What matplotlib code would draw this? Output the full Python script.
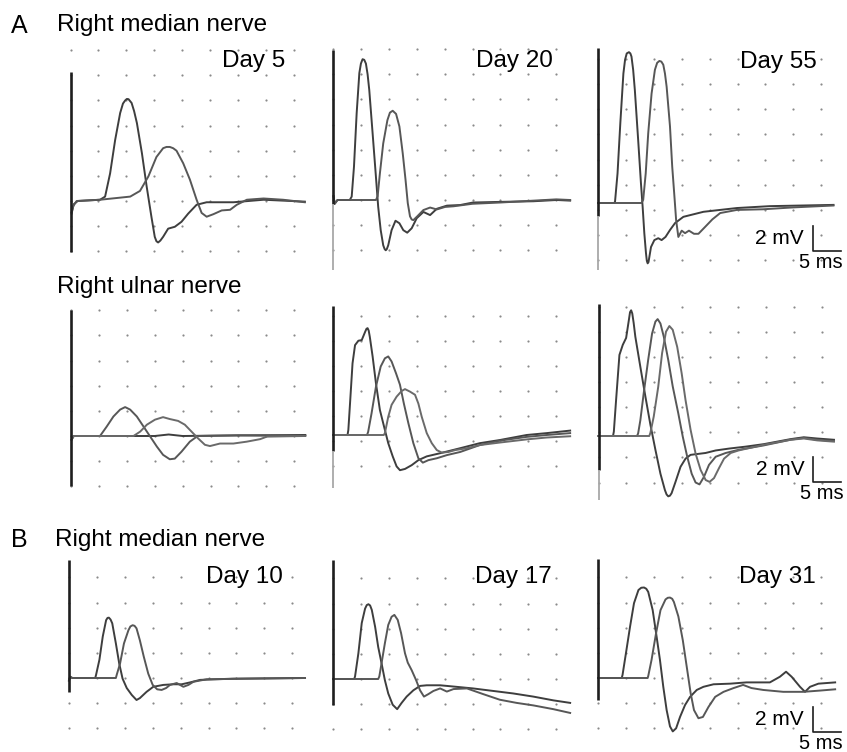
import numpy as np
import matplotlib.pyplot as plt

plt.rcParams['font.family'] = ['Liberation Sans', 'DejaVu Sans']

W, H = 847, 752
PX_MS = 5.58    # pixel je ms
PX_MV = 12.57   # pixel je mV

# --- Messkurven (Zeit in ms, Spannung in mV) ---
# A, N. medianus rechts, Tag 5
med5_a = [(0.2, -0.9), (0.6, -0.25), (1.3, 0.0), (5.3, 0.1), (6.2, 0.35), (7.1, 2.2), (8.0, 4.85),
          (8.9, 7.0), (9.4, 7.75), (9.8, 8.0), (10.1, 8.12), (10.4, 8.1), (10.95, 7.8), (11.4, 7.15),
          (11.9, 6.2), (12.8, 3.8), (13.65, 1.15), (14.5, -1.25), (15.1, -2.85), (15.4, -3.2),
          (15.7, -3.3), (16.1, -3.15), (16.6, -2.85), (17.5, -2.2), (18.7, -2.05), (19.9, -1.65),
          (21.1, -1.0), (22.6, -0.3), (24.4, -0.1), (29.2, -0.1), (34.6, 0.1), (42.0, -0.05)]
med5_b = [(0.2, -1.0), (0.5, -0.4), (1.1, 0.0), (5.3, 0.1), (10.7, 0.35), (12.45, 0.8), (13.95, 1.95),
          (15.4, 3.5), (16.6, 4.2), (17.2, 4.3), (17.8, 4.3), (18.4, 4.2), (19.0, 4.0), (20.2, 3.0),
          (21.4, 1.7), (22.6, 0.1), (23.5, -0.95), (24.4, -1.25), (25.6, -1.05), (27.1, -0.75),
          (28.6, -0.7), (29.8, -0.3), (31.6, 0.1), (34.6, 0.2), (38.1, 0.1), (42.0, -0.1)]
# Tag 20
med20_a = [(0.1, 0.3), (0.3, -0.3), (0.8, 0.0), (3.0, 0.0), (3.35, 0.27), (3.76, 2.65), (4.24, 6.9),
           (4.72, 10.1), (5.0, 10.85), (5.3, 11.2), (5.6, 11.15), (5.9, 10.85), (6.2, 10.0),
           (6.5, 8.75), (7.1, 5.3), (7.65, 2.1), (8.1, -0.55), (8.55, -2.4), (9.0, -3.6),
           (9.25, -3.9), (9.45, -4.0), (9.65, -3.9), (9.9, -3.6), (10.5, -2.4), (11.2, -1.65),
           (11.9, -1.85), (12.6, -2.4), (13.3, -2.6), (14.1, -2.25), (15.0, -1.45), (16.2, -0.95),
           (17.4, -1.2), (18.6, -0.7), (20.4, -0.45), (22.8, -0.4), (25.1, -0.2), (29.9, -0.15),
           (35.9, -0.1), (40.1, 0.0), (42.5, -0.05)]
med20_b = [(0.1, 0.3), (0.3, -0.3), (0.8, 0.0), (7.7, 0.0), (8.0, 0.3), (8.4, 2.1), (9.0, 4.5),
           (9.75, 6.35), (10.2, 6.95), (10.7, 7.1), (11.3, 6.85), (11.9, 5.85), (12.5, 3.7),
           (13.0, 1.6), (13.4, -0.25), (13.8, -1.3), (14.1, -1.55), (14.4, -1.6), (15.1, -1.3),
           (16.2, -0.8), (17.4, -0.6), (18.6, -0.75), (20.1, -0.55), (21.6, -0.5), (25.0, -0.3),
           (30.0, -0.2), (36.0, -0.05), (40.0, 0.05), (42.5, 0.0)]
# Tag 55
med55_a = [(0.0, 0.0), (2.9, 0.0), (3.05, 0.1), (3.5, 2.35), (4.0, 6.35), (4.55, 10.3), (4.85, 11.4),
           (5.15, 11.9), (5.55, 12.0), (5.8, 11.9), (6.0, 11.65), (6.3, 10.6), (6.6, 9.0), (7.2, 5.0),
           (7.7, 1.55), (8.0, -0.3), (8.3, -2.4), (8.6, -4.0), (8.75, -4.6), (8.9, -4.8), (9.05, -4.7),
           (9.2, -4.3), (9.5, -3.5), (10.1, -2.95), (10.8, -2.8), (11.4, -2.95), (12.1, -2.7),
           (12.9, -2.15), (13.8, -1.6), (15.3, -1.1), (18.9, -0.7), (24.9, -0.4), (30.8, -0.25),
           (42.2, -0.15)]
med55_b = [(0.0, 0.0), (7.8, 0.0), (8.1, 0.25), (8.55, 2.35), (9.0, 5.55), (9.6, 8.7), (10.2, 10.6),
           (10.6, 11.15), (11.0, 11.3), (11.35, 11.25), (11.7, 11.0), (12.0, 10.3), (12.3, 9.25),
           (12.9, 6.1), (13.3, 2.9), (13.7, 0.5), (14.0, -1.35), (14.4, -2.7), (15.0, -2.2),
           (15.6, -2.4), (16.3, -2.2), (17.2, -2.45), (18.0, -2.45), (19.2, -1.9), (20.5, -1.3),
           (21.9, -0.8), (24.9, -0.55), (29.6, -0.5), (35.0, -0.35), (42.2, -0.2)]

# A, N. ulnaris rechts
uln5_a = [(0.1, -0.3), (0.5, 0.0), (5.2, 0.0), (6.4, 0.75), (7.6, 1.55), (8.8, 2.1), (9.7, 2.3),
          (10.6, 2.1), (11.8, 1.55), (13.0, 0.75), (14.2, -0.05), (15.4, -0.85), (16.5, -1.5),
          (17.7, -1.85), (18.6, -1.8), (19.8, -1.25), (21.3, -0.45), (22.7, 0.0), (30.0, 0.05), (42.0, 0.0)]
uln5_b = [(0.1, -0.3), (0.5, 0.0), (11.2, 0.0), (12.4, 0.35), (13.6, 0.9), (15.05, 1.3), (16.5, 1.5),
          (17.7, 1.35), (19.2, 1.2), (20.4, 0.9), (21.6, 0.35), (22.8, -0.2), (24.0, -0.7),
          (24.9, -0.8), (26.7, -0.6), (29.1, -0.6), (31.5, -0.45), (33.9, -0.25), (35.1, -0.05), (41.9, 0.0)]
uln5_c = [(0.5, 0.0), (15.0, 0.0), (17.5, 0.12), (20.0, 0.0), (30.0, 0.05), (42.0, 0.08)]

uln20_a = [(0.0, 0.0), (2.6, 0.0), (2.75, 0.4), (3.05, 2.5), (3.5, 5.7), (3.95, 7.15), (4.55, 7.5),
           (5.15, 7.55), (5.75, 8.2), (6.0, 8.45), (6.2, 8.5), (6.4, 8.3), (6.6, 7.8), (7.1, 6.25),
           (7.7, 4.1), (8.4, 2.0), (9.3, 0.4), (9.9, -0.65), (10.7, -1.7), (11.4, -2.5), (12.0, -2.8),
           (12.9, -2.7), (14.1, -2.4), (15.3, -2.0), (16.8, -1.7), (19.2, -1.45), (22.8, -1.05),
           (26.3, -0.65), (29.9, -0.4), (34.7, 0.0), (38.3, 0.15), (42.5, 0.35)]
uln20_b = [(0.0, 0.0), (6.1, 0.0), (6.3, 0.25), (6.9, 1.7), (7.7, 3.85), (8.55, 5.45), (9.3, 6.1),
           (9.9, 6.25), (10.5, 5.85), (11.3, 4.9), (12.0, 4.0), (12.7, 2.5), (13.5, 0.95),
           (14.4, -0.65), (15.3, -1.85), (16.1, -2.2), (17.1, -2.0), (18.6, -1.85), (20.4, -1.6),
           (22.8, -1.35), (26.3, -0.8), (29.9, -0.45), (34.7, -0.15), (38.3, 0.0), (42.5, 0.15)]
uln20_c = [(0.0, 0.0), (9.1, 0.0), (9.3, 0.15), (9.9, 1.45), (10.5, 2.4), (11.4, 3.05), (12.3, 3.5),
           (12.9, 3.65), (13.8, 3.45), (14.7, 3.2), (15.3, 2.5), (15.9, 1.45), (16.8, 0.15),
           (17.7, -0.65), (18.6, -1.2), (19.5, -1.4), (20.7, -1.35), (21.9, -1.2), (24.0, -1.05),
           (26.3, -0.8), (29.9, -0.6), (34.7, -0.35), (38.3, -0.2), (42.5, -0.1)]

uln55_a = [(0.0, 0.0), (2.6, 0.0), (2.75, 0.35), (3.15, 2.85), (3.75, 6.45), (4.35, 7.25), (4.95, 7.8),
           (5.45, 9.25), (5.65, 9.85), (5.85, 10.0), (6.05, 9.75), (6.3, 9.0), (6.6, 7.9), (7.5, 5.5),
           (8.4, 3.15), (9.3, 0.9), (10.2, -1.1), (11.1, -3.0), (11.9, -4.3), (12.2, -4.65),
           (12.5, -4.8), (12.8, -4.75), (13.1, -4.55), (13.8, -3.65), (14.7, -2.45), (15.6, -1.8),
           (16.5, -1.5), (17.4, -1.45), (19.2, -1.35), (21.0, -1.15), (23.4, -1.0), (26.3, -0.85),
           (29.6, -0.65), (34.4, -0.25), (36.8, -0.1), (39.2, -0.2), (42.2, -0.3)]
uln55_b = [(0.0, 0.0), (6.9, 0.0), (7.1, 0.2), (7.5, 1.25), (8.1, 3.4), (8.9, 6.05), (9.6, 8.15),
           (10.2, 9.1), (10.6, 9.3), (11.1, 8.95), (11.7, 7.9), (12.5, 6.05), (13.3, 3.95),
           (14.3, 1.8), (15.1, -0.05), (15.9, -1.65), (16.7, -3.0), (17.4, -3.7), (18.1, -3.85),
           (18.9, -3.25), (19.8, -2.3), (21.0, -1.65), (22.8, -1.35), (25.1, -1.1), (29.6, -0.75),
           (34.4, -0.3), (36.8, -0.15), (39.2, -0.3), (42.2, -0.4)]
uln55_c = [(0.0, 0.0), (9.1, 0.0), (9.3, 0.25), (9.9, 1.55), (10.7, 3.9), (11.4, 6.6), (12.1, 8.3),
           (12.7, 8.75), (13.3, 8.45), (14.1, 7.1), (14.9, 5.0), (15.6, 2.85), (16.5, 0.5),
           (17.4, -1.4), (18.3, -2.7), (19.2, -3.5), (19.9, -3.65), (20.7, -3.35), (21.6, -2.55),
           (22.5, -1.8), (23.7, -1.35), (25.1, -1.15), (29.6, -0.7), (34.4, -0.3), (36.8, -0.2),
           (39.2, -0.35), (42.2, -0.45)]

# B, N. medianus rechts
med10_a = [(0.0, -0.2), (0.2, 0.1), (0.6, 0.0), (4.7, 0.0), (4.85, 0.25), (5.45, 1.45), (6.05, 3.3),
           (6.65, 4.6), (6.9, 4.78), (7.15, 4.8), (7.45, 4.65), (7.75, 4.35), (8.4, 2.75), (9.0, 1.15),
           (9.6, -0.05), (10.35, -0.8), (11.25, -1.35), (12.1, -1.75), (12.7, -1.6), (13.9, -1.1),
           (15.1, -0.7), (16.9, -0.55), (18.7, -0.5), (20.2, -0.5), (21.7, -0.35), (23.5, -0.15),
           (29.5, -0.05), (42.3, 0.0)]
med10_b = [(0.0, -0.2), (0.2, 0.1), (0.6, 0.0), (8.4, 0.0), (8.55, 0.25), (9.15, 1.15), (9.85, 2.75),
           (10.65, 3.8), (11.0, 4.1), (11.4, 4.2), (11.75, 4.15), (12.1, 3.95), (12.7, 3.0),
           (13.4, 1.7), (14.2, 0.35), (15.0, -0.55), (15.8, -0.9), (16.6, -0.95), (17.4, -0.8),
           (18.1, -0.55), (19.3, -0.4), (20.5, -0.7), (21.4, -0.55), (22.3, -0.3), (24.7, -0.1), (42.3, 0.0)]
med17_a = [(0.0, 0.0), (3.8, 0.0), (3.95, 0.2), (4.55, 2.05), (5.15, 4.45), (5.75, 5.6), (6.05, 5.88),
           (6.35, 5.95), (6.65, 5.85), (6.95, 5.5), (7.55, 4.15), (8.1, 2.55), (8.7, 1.25), (9.3, -0.1),
           (9.9, -1.15), (10.7, -2.05), (11.5, -2.4), (12.3, -1.9), (13.2, -1.4), (14.4, -0.9),
           (15.6, -0.55), (16.8, -0.5), (19.2, -0.5), (21.6, -0.6), (25.1, -0.75), (28.7, -0.95),
           (32.3, -1.15), (35.9, -1.4), (39.5, -1.7), (42.5, -1.9)]
med17_b = [(0.0, 0.0), (8.1, 0.0), (8.3, 0.2), (8.7, 1.25), (9.3, 2.85), (9.9, 4.3), (10.5, 4.95),
           (11.0, 5.1), (11.6, 4.7), (12.2, 3.65), (12.9, 2.05), (13.4, 1.3), (14.1, 0.7),
           (14.9, -0.1), (15.6, -0.9), (16.3, -1.4), (17.1, -1.2), (18.0, -0.95), (19.2, -0.75),
           (20.4, -1.0), (21.6, -0.8), (24.0, -0.75), (26.9, -1.2), (29.9, -1.65), (32.9, -1.9),
           (35.9, -2.1), (39.5, -2.4), (42.5, -2.7)]
med31_a = [(0.0, 0.0), (4.25, 0.0), (4.4, 0.25), (5.0, 1.95), (5.75, 4.1), (6.45, 5.95), (7.25, 7.0),
           (7.75, 7.18), (8.25, 7.2), (8.65, 7.1), (9.0, 6.85), (9.8, 5.4), (10.5, 3.3), (11.1, 1.45),
           (11.7, -0.7), (12.3, -2.55), (12.9, -3.85), (13.4, -4.25), (14.0, -4.0), (14.7, -3.1),
           (15.6, -2.15), (16.5, -1.5), (17.7, -0.95), (18.9, -0.7), (20.7, -0.5), (23.7, -0.45),
           (26.6, -0.35), (30.8, -0.35), (32.6, 0.1), (33.7, 0.5), (34.7, 0.1), (36.2, -0.7),
           (37.1, -1.1), (38.0, -0.7), (39.5, -0.45), (42.5, -0.35)]
med31_b = [(0.0, 0.0), (8.9, 0.0), (9.0, 0.15), (9.6, 1.45), (10.4, 3.55), (11.2, 5.4), (12.1, 6.25),
           (12.5, 6.38), (12.9, 6.4), (13.3, 6.3), (13.6, 6.05), (14.4, 4.9), (15.2, 3.0), (15.9, 0.9),
           (16.6, -1.2), (17.2, -2.55), (18.0, -3.2), (18.8, -3.1), (19.8, -2.3), (21.0, -1.5),
           (22.5, -1.1), (24.3, -0.8), (26.0, -0.55), (27.5, -0.8), (29.6, -0.95), (33.2, -1.1),
           (36.8, -1.1), (39.8, -1.0), (42.5, -0.9)]

# Layout: Pixel von t=0 und Nulllinie, Versatz der Punktreihen, Punktreihen, Achsenstrich (oben, dunkel bis, unten)
panels = [
    dict(x0=70.5, y0=201, off=0.0, rows=(-2, 6), axis=(10.3, -4.05, -4.05), traces=[med5_a, med5_b]),
    dict(x0=333, y0=200, off=0.0, rows=(-2, 6), axis=(11.9, -0.3, -5.6), traces=[med20_a, med20_b]),
    dict(x0=598, y0=203, off=-0.55, rows=(-2, 6), axis=(12.3, -1.0, -5.3), traces=[med55_a, med55_b], bar=-3.8),
    dict(x0=71, y0=436, off=0.0, rows=(-2, 5), axis=(10.0, -4.0, -4.0), traces=[uln5_c, uln5_a, uln5_b]),
    dict(x0=333, y0=435, off=-0.5, rows=(-1, 5), axis=(10.3, -1.3, -4.25), traces=[uln20_a, uln20_b, uln20_c]),
    dict(x0=598.5, y0=436, off=0.3, rows=(-2, 5), axis=(10.5, -2.7, -5.1), traces=[uln55_a, uln55_b, uln55_c], bar=-3.65),
    dict(x0=69, y0=678, off=0.0, rows=(-2, 4), axis=(9.4, -1.1, -1.1), traces=[med10_a, med10_b]),
    dict(x0=333, y0=679, off=0.0, rows=(-2, 4), axis=(9.5, -2.05, -2.05), traces=[med17_a, med17_b]),
    dict(x0=598, y0=678, off=0.0, rows=(-2, 4), axis=(9.45, -1.75, -1.75), traces=[med31_a, med31_b], bar=-4.3),
]

trace_colors = ['#3e3e3e', '#575757', '#6a6a6a']
XLIM = (-4, 46)
YLIM = (-6.5, 13.5)

fig = plt.figure(figsize=(W / 100, H / 100), dpi=100)

for p in panels:
    left = p['x0'] + XLIM[0] * PX_MS
    bottom = p['y0'] - YLIM[0] * PX_MV
    ax = fig.add_axes([left / W, 1 - bottom / H,
                       (XLIM[1] - XLIM[0]) * PX_MS / W, (YLIM[1] - YLIM[0]) * PX_MV / H])
    ax.set_xlim(*XLIM)
    ax.set_ylim(*YLIM)
    ax.axis('off')
    ax.patch.set_alpha(0)

    # Punktraster
    k0, k1 = p['rows']
    tt, vv = np.meshgrid(np.arange(0, 41, 5), p['off'] + 2 * np.arange(k0, k1 + 1))
    ax.scatter(tt.ravel(), vv.ravel(), s=2.5, c='#8a8a8a', linewidths=0, zorder=1)

    # senkrechter Strich bei t=0
    top, mid, bot = p['axis']
    ax.plot([0, 0], [mid, top], color='#1e1e1e', lw=1.9, solid_capstyle='butt', zorder=3)
    if bot < mid:
        ax.plot([0, 0], [bot, mid], color='#a8a8a8', lw=1.3, solid_capstyle='butt', zorder=3)

    for i, tr in enumerate(p['traces']):
        t, v = np.array(tr).T
        ax.plot(t, v, color=trace_colors[i % 3], lw=1.4, solid_joinstyle='round', zorder=2)

    # Massstab
    if 'bar' in p:
        vb = p['bar']
        ax.plot([38.5, 38.5, 43.5], [vb + 2, vb, vb], color='#1e1e1e', lw=1.2, zorder=3)
        ax.text(36.9, vb + 1.0, '2 mV', ha='right', va='center', fontsize=15)
        ax.text(40.0, vb - 0.15, '5 ms', ha='center', va='top', fontsize=14.5)


def ftext(px, py, s, **kw):
    fig.text(px / W, 1 - py / H, s, va='baseline', **kw)


ftext(11, 33, 'A', fontsize=18)
ftext(57, 31, 'Right median nerve', fontsize=17.5)
ftext(57, 293, 'Right ulnar nerve', fontsize=17.5)
ftext(11, 547, 'B', fontsize=18)
ftext(55, 546, 'Right median nerve', fontsize=17.5)

ftext(285, 67, 'Day 5', fontsize=17.5, ha='right')
ftext(553, 67, 'Day 20', fontsize=17.5, ha='right')
ftext(817, 68, 'Day 55', fontsize=17.5, ha='right')
ftext(283, 583, 'Day 10', fontsize=17.5, ha='right')
ftext(552, 583, 'Day 17', fontsize=17.5, ha='right')
ftext(816, 583, 'Day 31', fontsize=17.5, ha='right')

fig.savefig('out.png', dpi=100, facecolor='white')
